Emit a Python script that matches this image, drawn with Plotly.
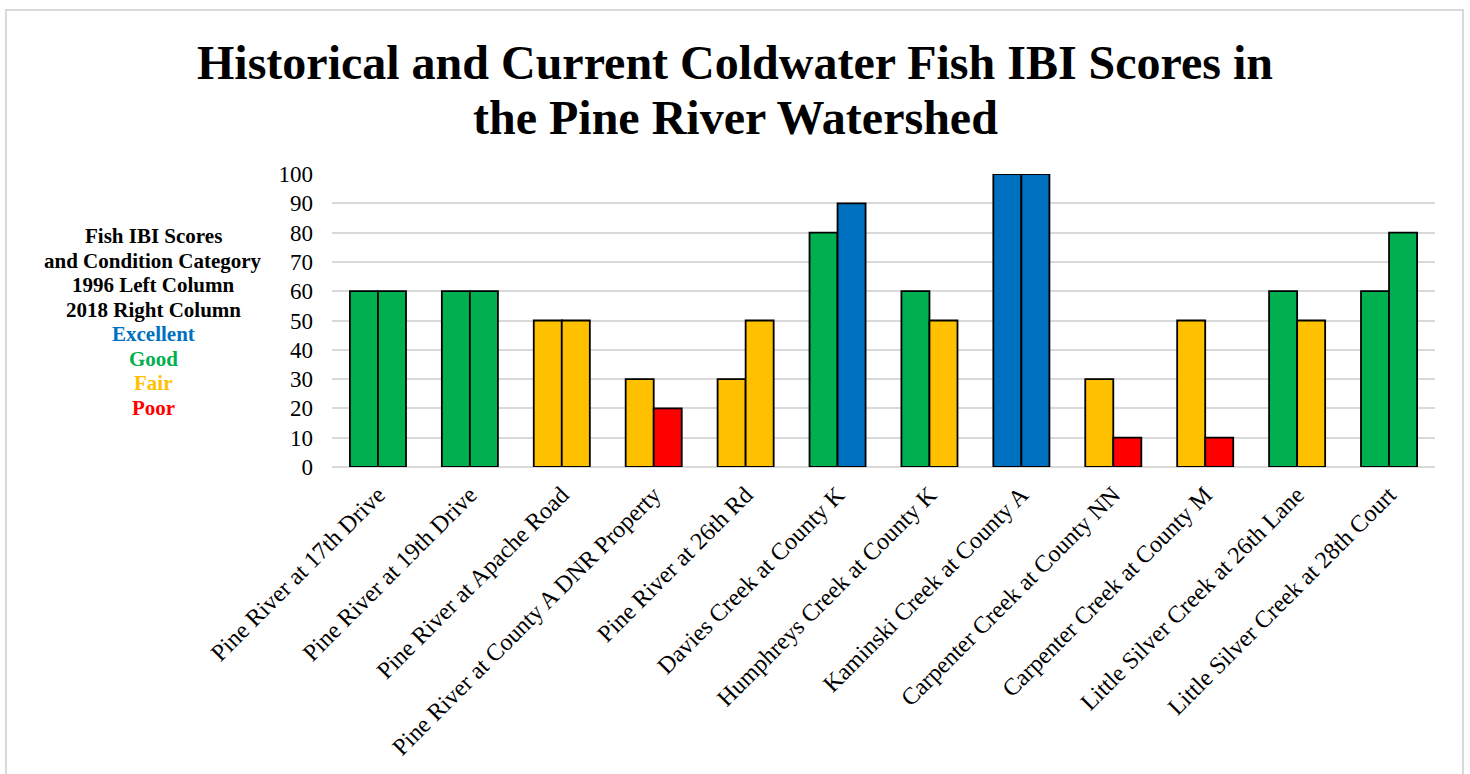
import plotly.graph_objects as go

# Sampling sites along the Pine River watershed
sites = [
    "Pine River at 17th Drive",
    "Pine River at 19th Drive",
    "Pine River at Apache Road",
    "Pine River at County A DNR Property",
    "Pine River at 26th Rd",
    "Davies Creek at County K",
    "Humphreys Creek at County K",
    "Kaminski Creek at County A",
    "Carpenter Creek at County NN",
    "Carpenter Creek at County M",
    "Little Silver Creek at 26th Lane",
    "Little Silver Creek at 28th Court",
]

# Fish IBI scores by survey year
ibi_1996 = [60, 60, 50, 30, 30, 80, 60, 100, 30, 50, 60, 60]
ibi_2018 = [60, 60, 50, 20, 50, 90, 50, 100, 10, 10, 50, 80]

# Condition category of each score
cond_1996 = ["Good", "Good", "Fair", "Fair", "Fair", "Good", "Good", "Excellent", "Fair", "Fair", "Good", "Good"]
cond_2018 = ["Good", "Good", "Fair", "Poor", "Fair", "Excellent", "Fair", "Excellent", "Poor", "Poor", "Fair", "Good"]

# Category colours and the key lines
categories = ["Excellent", "Good", "Fair", "Poor"]
cat_colors = {"Excellent": "#0070C0", "Good": "#00B050", "Fair": "#FFC000", "Poor": "#FF0000"}
key_header = ["Fish IBI Scores", "and Condition Category", "1996 Left Column", "2018 Right Column"]

title_lines = ["Historical and Current Coldwater Fish IBI Scores in", "the Pine River Watershed"]

y_ticks = list(range(0, 101, 10))

SERIF = "Liberation Serif, Times New Roman, serif"

fig = go.Figure()
for name, vals, conds in (("1996", ibi_1996, cond_1996), ("2018", ibi_2018, cond_2018)):
    fig.add_trace(go.Bar(
        x=sites,
        y=vals,
        name=name,
        marker=dict(color=[cat_colors[c] for c in conds],
                    line=dict(color="black", width=1.8)),
        showlegend=False,
        hoverinfo="x+y+name",
    ))

plot_top, plot_h = 174, 293


def paper_y(px):
    """Convert a pixel row of the page to paper y coordinates."""
    return (plot_top + plot_h - px) / plot_h


annotations = []

# Two-line chart title
for txt, py in zip(title_lines, (62, 117)):
    annotations.append(dict(
        text=f"<b>{txt}</b>", xref="paper", yref="paper",
        x=(735 - 332) / 1103, y=paper_y(py),
        xanchor="center", yanchor="middle", showarrow=False,
        font=dict(family=SERIF, size=48, color="black"),
    ))

# Key text at the left of the plot, one line per annotation
key_lines = [(t, "black") for t in key_header] + [(c, cat_colors[c]) for c in categories]
for i, (txt, col) in enumerate(key_lines):
    annotations.append(dict(
        text=f"<b>{txt}</b>", xref="paper", yref="paper",
        x=(153 - 332) / 1103, y=paper_y(236 + i * 24.5),
        xanchor="center", yanchor="middle", showarrow=False,
        font=dict(family=SERIF, size=21, color=col),
    ))

# Chart frame
shapes = [dict(
    type="rect", xref="paper", yref="paper",
    x0=-0.2956, x1=1.0254, y0=-1.2, y1=paper_y(10),
    line=dict(color="#D9D9D9", width=2), fillcolor="rgba(0,0,0,0)", layer="below",
)]

fig.update_layout(
    width=1470, height=774,
    margin=dict(l=332, r=35, t=174, b=307, pad=0),
    paper_bgcolor="white", plot_bgcolor="white",
    barmode="group", bargap=0.39, bargroupgap=0,
    xaxis=dict(
        tickangle=-45, tickfont=dict(family=SERIF, size=24, color="black"),
        showgrid=False, showline=False, ticks="", ticklabelstandoff=8,
    ),
    yaxis=dict(
        range=[0, 100], tickvals=y_ticks,
        tickfont=dict(family=SERIF, size=23, color="black"),
        showgrid=True, gridcolor="#D9D9D9", gridwidth=1.5,
        zeroline=True, zerolinecolor="#D9D9D9", zerolinewidth=1.5,
        showline=False, ticks="", ticklabelstandoff=18,
    ),
    annotations=annotations,
    shapes=shapes,
    font=dict(family=SERIF, color="black"),
)

fig.write_html("out.html")
